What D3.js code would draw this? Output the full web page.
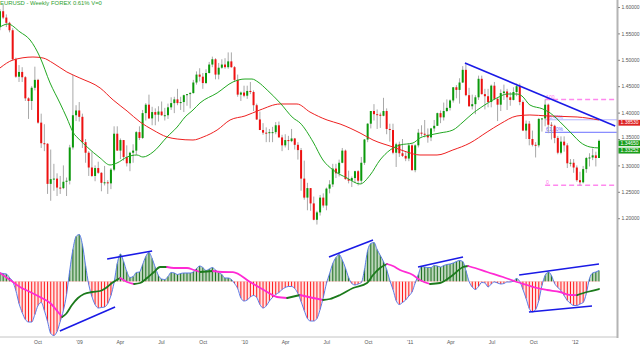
<!DOCTYPE html>
<html><head><meta charset="utf-8">
<script src="https://cdn.jsdelivr.net/npm/d3@7"></script>
<style>html,body{margin:0;padding:0;background:#fff;overflow:hidden}svg{display:block}text{font-family:"Liberation Sans",Arial,sans-serif}</style>
</head><body><svg id="c" width="640" height="346"></svg>
<script>
// ---------------- DATA ----------------
const firstWeek = "2008-07-07";   // Monday of the first weekly bar
const closes = [1.5920,1.5800,1.5700,1.5560,1.5010,1.4680,1.4770,1.4670,1.4270,1.4220,
1.4470,1.4620,1.3810,1.3420,1.3410,1.2650,1.2740,1.2750,1.2580,1.2570,
1.2690,1.2710,1.3340,1.3950,1.4040,1.3920,1.3440,1.3240,1.2960,1.2800,
1.2950,1.2860,1.2670,1.2680,1.2660,1.2920,1.3600,1.3280,1.3480,1.3160,
1.3040,1.3240,1.3280,1.3630,1.3520,1.3990,1.4150,1.3890,1.4010,1.3960,
1.4020,1.3950,1.3950,1.4100,1.4180,1.4250,1.4180,1.4200,1.4330,1.4350,
1.4370,1.4570,1.4720,1.4680,1.4560,1.4750,1.4910,1.5010,1.4720,1.4850,
1.4910,1.4860,1.4970,1.4860,1.4620,1.4340,1.4380,1.4320,1.4410,1.4390,
1.4140,1.3870,1.3670,1.3620,1.3610,1.3630,1.3630,1.3760,1.3530,1.3380,
1.3480,1.3460,1.3510,1.3390,1.3290,1.2750,1.2390,1.2570,1.2280,1.1970,
1.2110,1.2390,1.2240,1.2560,1.2640,1.2940,1.2850,1.3050,1.3280,1.2740,
1.2710,1.2760,1.2890,1.2710,1.3050,1.3490,1.3790,1.4030,1.3970,1.3960,
1.3940,1.4030,1.3690,1.3670,1.3240,1.3400,1.3230,1.3180,1.3130,1.3380,
1.2910,1.3380,1.3620,1.3600,1.3580,1.3530,1.3700,1.3750,1.3990,1.3910,
1.4030,1.4090,1.4230,1.4480,1.4430,1.4570,1.4810,1.4330,1.4120,1.4160,
1.4290,1.4640,1.4350,1.4310,1.4200,1.4510,1.4260,1.4150,1.4370,1.4400,
1.4290,1.4240,1.4390,1.4500,1.4200,1.3660,1.3790,1.3500,1.3390,1.3380,
1.3880,1.3890,1.4150,1.3770,1.3750,1.3520,1.3240,1.3450,1.3380,1.3040,
1.3050,1.2960,1.2720,1.2680,1.2930,1.3140,1.3150,1.3190,1.3140,1.3465];
const opens = [1.5620,1.5920,1.5800,1.5700,1.5560,1.5010,1.4680,1.4770,1.4670,1.4270,
1.4220,1.4470,1.4620,1.3810,1.3420,1.3410,1.2650,1.2740,1.2750,1.2580,
1.2570,1.2690,1.2710,1.3340,1.3950,1.4040,1.3920,1.3440,1.3240,1.2960,
1.2800,1.2950,1.2860,1.2670,1.2680,1.2660,1.2920,1.3600,1.3280,1.3480,
1.3160,1.3040,1.3240,1.3280,1.3630,1.3520,1.3990,1.4150,1.3890,1.4010,
1.3960,1.4020,1.3950,1.3950,1.4100,1.4180,1.4250,1.4180,1.4200,1.4330,
1.4350,1.4370,1.4570,1.4720,1.4680,1.4560,1.4750,1.4910,1.5010,1.4720,
1.4850,1.4910,1.4860,1.4970,1.4860,1.4620,1.4340,1.4380,1.4320,1.4410,
1.4390,1.4140,1.3870,1.3670,1.3620,1.3610,1.3630,1.3630,1.3760,1.3530,
1.3380,1.3480,1.3460,1.3510,1.3390,1.3290,1.2750,1.2390,1.2570,1.2280,
1.1970,1.2110,1.2390,1.2240,1.2560,1.2640,1.2940,1.2850,1.3050,1.3280,
1.2740,1.2710,1.2760,1.2890,1.2710,1.3050,1.3490,1.3790,1.4030,1.3970,
1.3960,1.3940,1.4030,1.3690,1.3670,1.3240,1.3400,1.3230,1.3180,1.3130,
1.3380,1.2910,1.3380,1.3620,1.3600,1.3580,1.3530,1.3700,1.3750,1.3990,
1.3910,1.4030,1.4090,1.4230,1.4480,1.4430,1.4570,1.4810,1.4330,1.4120,
1.4160,1.4290,1.4640,1.4350,1.4310,1.4200,1.4510,1.4260,1.4150,1.4370,
1.4400,1.4290,1.4240,1.4390,1.4500,1.4200,1.3660,1.3790,1.3500,1.3390,
1.3380,1.3880,1.3890,1.4150,1.3770,1.3750,1.3520,1.3240,1.3450,1.3380,
1.3040,1.3050,1.2960,1.2720,1.2680,1.2930,1.3140,1.3150,1.3190,1.3140];
const highs = [1.5960,1.6038,1.5860,1.5720,1.5600,1.5040,1.4900,1.4860,1.4690,1.4290,
1.4500,1.4870,1.4640,1.3980,1.3780,1.3420,1.3300,1.3030,1.2850,1.2800,
1.3000,1.2770,1.3390,1.4720,1.4140,1.4200,1.3980,1.3500,1.3270,1.3260,
1.3000,1.3070,1.2870,1.2990,1.2720,1.2950,1.3740,1.3740,1.3510,1.3480,
1.3380,1.3260,1.3400,1.3650,1.3740,1.4050,1.4180,1.4340,1.4110,1.4080,
1.4120,1.4210,1.4090,1.4170,1.4290,1.4300,1.4450,1.4300,1.4340,1.4350,
1.4390,1.4620,1.4780,1.4840,1.4750,1.4820,1.4960,1.5060,1.5030,1.4940,
1.5010,1.5030,1.5140,1.5140,1.4880,1.4720,1.4400,1.4510,1.4510,1.4580,
1.4420,1.4170,1.4020,1.3800,1.3720,1.3690,1.3730,1.3820,1.3830,1.3580,
1.3590,1.3560,1.3690,1.3520,1.3440,1.3330,1.3090,1.2670,1.2570,1.2410,
1.2140,1.2440,1.2470,1.2580,1.2720,1.3030,1.3030,1.3110,1.3330,1.3300,
1.2900,1.2790,1.2900,1.2910,1.3160,1.3500,1.3800,1.4030,1.4160,1.4060,
1.4000,1.4280,1.4080,1.3790,1.3790,1.3430,1.3450,1.3500,1.3250,1.3420,
1.3400,1.3400,1.3690,1.3760,1.3860,1.3700,1.3710,1.3860,1.4000,1.4040,
1.4190,1.4250,1.4250,1.4480,1.4520,1.4650,1.4880,1.4940,1.4470,1.4340,
1.4330,1.4700,1.4700,1.4450,1.4450,1.4530,1.4580,1.4280,1.4440,1.4530,
1.4450,1.4390,1.4480,1.4550,1.4550,1.4230,1.3850,1.3840,1.3660,1.3440,
1.3900,1.3890,1.4250,1.4170,1.3820,1.3770,1.3560,1.3550,1.3550,1.3420,
1.3120,1.3120,1.3000,1.2880,1.2990,1.3160,1.3230,1.3320,1.3260,1.3490];
const lows = [1.5560,1.5770,1.5620,1.5520,1.4990,1.4660,1.4580,1.4580,1.4220,1.3880,
1.4050,1.4420,1.3790,1.3330,1.3270,1.2460,1.2330,1.2520,1.2420,1.2460,
1.2550,1.2420,1.2640,1.3300,1.3840,1.3830,1.3330,1.3050,1.2800,1.2780,
1.2700,1.2840,1.2510,1.2620,1.2460,1.2550,1.2890,1.3280,1.3120,1.3090,
1.2980,1.2890,1.3050,1.3200,1.3480,1.3500,1.3850,1.3880,1.3760,1.3760,
1.3830,1.3940,1.3850,1.3880,1.4050,1.3990,1.4140,1.4050,1.4010,1.4130,
1.4080,1.4360,1.4530,1.4590,1.4450,1.4540,1.4740,1.4860,1.4630,1.4630,
1.4830,1.4830,1.4830,1.4850,1.4580,1.4300,1.4220,1.4290,1.4260,1.4350,
1.4030,1.3860,1.3670,1.3580,1.3440,1.3440,1.3440,1.3590,1.3530,1.3270,
1.3340,1.3290,1.3440,1.3300,1.3110,1.2520,1.2350,1.2150,1.2140,1.1960,
1.1880,1.2050,1.2200,1.2150,1.2470,1.2590,1.2760,1.2790,1.3040,1.2730,
1.2660,1.2590,1.2670,1.2620,1.2650,1.3010,1.3440,1.3700,1.3850,1.3690,
1.3710,1.3930,1.3590,1.3450,1.3210,1.2970,1.3160,1.3160,1.3080,1.3080,
1.2900,1.2870,1.3340,1.3550,1.3530,1.3430,1.3460,1.3640,1.3750,1.3800,
1.3850,1.4010,1.4040,1.4190,1.4270,1.4170,1.4560,1.4310,1.4110,1.4060,
1.3970,1.4240,1.4340,1.4060,1.4100,1.4100,1.4240,1.3840,1.4030,1.4240,
1.4050,1.4130,1.4230,1.4310,1.4140,1.3650,1.3500,1.3380,1.3360,1.3150,
1.3340,1.3640,1.3740,1.3610,1.3490,1.3420,1.3210,1.3210,1.3260,1.2950,
1.2980,1.2860,1.2690,1.2620,1.2660,1.2860,1.2980,1.3100,1.2980,1.3140];

// moving averages (week index, price)
const ma20Weeks  = [0,2.5,6.3,9.5,12.6,15.8,18.9,21.1,23,25.2,27.5,31.6,34.7,36.9,40.1,43.2,45.1,48.3,52.7,55.9,58.4,60.9,63.1,68.5,73.5,77.3,79.5,81.4,84.3,88.4,92.5,94.7,98.8,101.9,105.1,109.5,113.6,116.8,119.9,123.1,126.2,130.3,132.5,135.7,138.8,142.9,146.1,149.3,151.5,156.8,160,163.1,164.7,167.2,171.3,173.6,177.7,180.8,183,186.2,189];
const ma20Values = [1.5621,1.5678,1.5527,1.5375,1.5053,1.4561,1.4182,1.3898,1.3633,1.3481,1.3348,1.3140,1.3008,1.3045,1.3159,1.3197,1.3159,1.3254,1.3538,1.3727,1.3917,1.4049,1.4182,1.4371,1.4580,1.4636,1.4636,1.4580,1.4428,1.4182,1.3898,1.3803,1.3443,1.3102,1.2913,1.2761,1.2648,1.2818,1.3102,1.3292,1.3386,1.3424,1.3519,1.3576,1.3614,1.3670,1.3822,1.3992,1.4087,1.4277,1.4352,1.4352,1.4314,1.4144,1.4068,1.3992,1.3765,1.3576,1.3443,1.3348,1.3330];
const ma50Weeks  = [0,4.1,10.4,13.6,16.7,21.1,25.2,31.6,35.7,40.1,44.2,48.3,52.7,55.9,60.9,64.1,68.5,72.6,77.3,82,88.4,93.7,97.8,103.2,107.3,113.6,117.7,124,128.4,132.5,137.9,142.9,148.3,153.7,157.8,163.1,167.2,172.6,182.1,189];
const ma50Values = [1.4845,1.4996,1.5053,1.5034,1.4939,1.4769,1.4655,1.4466,1.4239,1.4030,1.3822,1.3670,1.3538,1.3500,1.3481,1.3538,1.3670,1.3860,1.3936,1.4049,1.4163,1.4163,1.4011,1.3860,1.3784,1.3614,1.3481,1.3348,1.3254,1.3197,1.3197,1.3292,1.3424,1.3633,1.3785,1.3936,1.3955,1.3936,1.3917,1.3860];

// oscillator (one value per week) and its signal line
const oscValues = [8.5,8,7.5,4,0,-9,-22,-31,-38,-40.5,-40.5,-33,-24,-21,-29,-40,-52,-54,-50,-40,
-29,-13,11,32,45,47,37,16,-3,-15,-23,-26.5,-26,-25.5,-22,-14,-1,18,27.5,20,
10,4,5,9,9.5,17,25,29,23,14,6,2.5,2,5,9,8.5,7,8,8.5,8.5,
8.5,9.5,13,15.5,14,11,12.5,14,11.5,9,7,3.5,3.5,2,-2,-7,-16.5,-19.5,-18.5,-15.5,
-14,-16,-23,-26.5,-24.5,-19.5,-16,-13,-11,-8,-6,-5,-5,-7,-12,-20,-29,-37,-39.5,-39.5,
-37,-28,-16,-2,8,18,24,27,21.5,13.5,4,-2,-3.5,-2.5,-1,12,31,38,39,32,
26,20,12,1,-8,-19,-23,-21,-18.5,-14.5,-10.5,-1.5,7,15,14.5,14,14,16,15.5,14.5,
16,17,17.5,18.5,20,21,20,11,0,-5.5,-8,-5,-1,-1.5,-5.5,-2.5,-0.5,-1.5,-2.5,-2,
-0.5,-0.5,0.5,3,0,-8,-17,-27,-30.5,-28,-19,-4,6,9.5,6,-2,-6,-9,-14,-19,
-22,-24,-24,-22.5,-21,-12,3,8.5,9.5,11];
const sigWeeks  = [0,3.2,6.3,9.5,12.6,15.8,18.3,19.6,20.8,22.7,24.6,26.5,29,31.6,33.4,35.3,37.9,40.1,42.3,44.2,46.4,48.6,50.5,52.7,54.9,56.8,59,61.2,63.1,67.2,70.1,73.5,78.9,84.3,87.4,90.6,94.7,98.8,101.9,104.1,107.3,111.4,115.8,117.7,119.9,122.1,124,126.2,130.3,132.5,135.7,138.8,142.9,146.1,147.7,149.9,153.7,158.7,163.1,166.3,169.5,172.6,176.7,179.9,182.1,185.2,189];
const sigValues = [8.5,1.5,-5.5,-10.5,-15.5,-21.5,-30.5,-35.5,-32.5,-23.5,-16.5,-12.5,-10.5,-9.5,-6.5,-1.5,3.5,-0.5,-2.5,-1.5,3.5,9.5,14.5,14.5,13.5,13.5,13.5,11.5,9.5,10.5,9.5,9.4,-0.5,-10.5,-15.5,-16.5,-13.5,-16.5,-18.5,-17.5,-13.5,-6.5,-1.5,6.5,13.5,17.5,15.5,11.5,6.5,1.5,-2.5,-1.5,6.5,14.5,15.5,13.5,9.5,4.5,-0.5,-3.5,-6.5,-8.5,-10.5,-13.5,-13.6,-10.5,-7.5];

// time axis
const tickDates  = ["2008-10-01","2009-01-01","2009-04-01","2009-07-01","2009-10-01","2010-01-01","2010-04-01","2010-07-01","2010-10-01","2011-01-01","2011-04-01","2011-07-01","2011-10-01","2012-01-01"];
const tickLabels = ["Oct","'09","Apr","Jul","Oct","'10","Apr","Jul","Oct","'11","Apr","Jul","Oct","'12"];
const priceTicks = [1.20,1.25,1.30,1.35,1.40,1.45,1.50,1.55,1.60];

// drawn studies (week index, value)
const priceTrend = [[146.7,1.4939],[194.1,1.3746]];
const oscTrends = [
  [[18.9,-49.5],[36.3,-25.5]],
  [[33.8,22.5],[48.0,30.5]],
  [[103.8,24.5],[117.7,41.5]],
  [[131.9,14.5],[146.1,24.5]],
  [[163.8,6.5],[189.0,17.5]],
  [[166.9,-30.5],[186.8,-24.5]]
];
const fibStartWeek = 172, fibHigh = 1.4247, fibLow = 1.2624;
const fibRatios = [1, 0.764, 0.618, 0];
const fibLabels = ["100", "76.40%", "61.80%", "0"];
const lastValueLabels = ["1.38530","1.34650","1.33252"];
const lastValues = [1.3853, 1.3465, 1.33252];
const lastValueKinds = ["ma50","price","ma20"];
const titleText = "EURUSD - Weekly FOREX  0.61%  V=0";

// ---------------- DRAW ----------------
const svg = d3.select("#c");
const plotRight = 617, axisBottom = 337;
const start = new Date(firstWeek + "T00:00:00");
const WEEK = 7 * 864e5;
const n = closes.length;
const x = d3.scaleLinear().domain([0, n - 1]).range([0, 599]);
const y = d3.scaleLinear().domain([1.20, 1.60]).range([218.2, 7]);
const yo = d3.scaleLinear().domain([-55, 50]).range([336.5, 231.5]);
const weekOf = s => (new Date(s + "T00:00:00") - start) / WEEK;

svg.append("defs").append("clipPath").attr("id","plot")
  .append("rect").attr("x",0).attr("y",0).attr("width",plotRight).attr("height",axisBottom);
svg.select("defs").append("clipPath").attr("id","pos")
  .append("rect").attr("x",0).attr("y",0).attr("width",plotRight).attr("height",yo(0));
svg.select("defs").append("clipPath").attr("id","neg")
  .append("rect").attr("x",0).attr("y",yo(0)).attr("width",plotRight).attr("height",axisBottom-yo(0));

const g = svg.append("g").attr("clip-path","url(#plot)");

// fib levels
const fibColors = ["#ff88ee","#b4b4ff","#6a70ff","#ff88ee"];
fibRatios.forEach((r,k) => {
  const v = fibLow + r * (fibHigh - fibLow);
  const dashed = (r === 0 || r === 1);
  g.append("line").attr("x1", x(fibStartWeek)).attr("x2", plotRight)
    .attr("y1", y(v)).attr("y2", y(v))
    .attr("stroke", fibColors[k]).attr("stroke-width", dashed ? 1.5 : 1)
    .attr("stroke-dasharray", dashed ? "5,3" : null);
  g.append("text").attr("x", x(fibStartWeek) + 1).attr("y", y(v) - 1)
    .attr("font-size", 5).attr("fill", dashed ? "#ff77ee" : (r > 0.7 ? "#9a8aff" : "#6a70ff"))
    .text(fibLabels[k]);
});

// candles
const cand = g.append("g");
d3.range(n).forEach(i => {
  const up = closes[i] >= opens[i];
  cand.append("line").attr("x1", x(i)).attr("x2", x(i))
    .attr("y1", y(highs[i])).attr("y2", y(lows[i]))
    .attr("stroke", "#a8a8a8").attr("stroke-width", 1);
  const top = y(Math.max(opens[i], closes[i])), bot = y(Math.min(opens[i], closes[i]));
  cand.append("rect").attr("x", x(i) - 1).attr("width", 2)
    .attr("y", top).attr("height", Math.max(1, bot - top))
    .attr("fill", up ? "#0b9a0b" : "#ee1111");
});

// moving averages
const maLine = d3.line().curve(d3.curveMonotoneX);
g.append("path").attr("d", maLine(ma50Weeks.map((w,k)=>[x(w), y(ma50Values[k])])))
  .attr("fill","none").attr("stroke","#ee2020").attr("stroke-width",1);
g.append("path").attr("d", maLine(ma20Weeks.map((w,k)=>[x(w), y(ma20Values[k])])))
  .attr("fill","none").attr("stroke","#22a822").attr("stroke-width",1);

// price trend line
g.append("line").attr("x1", x(priceTrend[0][0])).attr("y1", y(priceTrend[0][1]))
  .attr("x2", x(priceTrend[1][0])).attr("y2", y(priceTrend[1][1]))
  .attr("stroke","#1a1ae6").attr("stroke-width",1.6);

// oscillator
const oscPts = oscValues.map((v,i)=>[x(i), yo(v)]);
const area = d3.area().x(d=>d[0]).y0(yo(0)).y1(d=>d[1]).curve(d3.curveMonotoneX);
g.append("path").attr("d", area(oscPts)).attr("fill","#bcd6bc").attr("clip-path","url(#pos)");
g.append("path").attr("d", area(oscPts)).attr("fill","#ffe6e6").attr("clip-path","url(#neg)");
oscValues.forEach((v,i) => {
  g.append("line").attr("x1", x(i)).attr("x2", x(i)).attr("y1", yo(0)).attr("y2", yo(v))
    .attr("stroke", v >= 0 ? "#1f6f1f" : "#ff1a1a").attr("stroke-width", 1);
});
g.append("line").attr("x1",0).attr("x2",x(n-1)).attr("y1",yo(0)).attr("y2",yo(0))
  .attr("stroke","#ffb0b0").attr("stroke-width",0.8).attr("clip-path","url(#neg)");
g.append("path").attr("d", d3.line().curve(d3.curveMonotoneX)(oscPts))
  .attr("fill","none").attr("stroke","#5b7be8").attr("stroke-width",1);

// signal line coloured by direction
const sigPts = sigWeeks.map((w,k)=>[x(w), yo(sigValues[k])]);
let run = [sigPts[0]], dir = Math.sign(sigValues[1]-sigValues[0]);
const runs = [];
for (let k = 1; k < sigPts.length; k++) {
  const d = Math.sign(sigValues[k]-sigValues[k-1]) || dir;
  if (d !== dir) { runs.push({pts: run, dir}); run = [sigPts[k-1]]; dir = d; }
  run.push(sigPts[k]);
}
runs.push({pts: run, dir});
runs.forEach(r => {
  g.append("path").attr("d", d3.line().curve(d3.curveMonotoneX)(r.pts))
    .attr("fill","none").attr("stroke", r.dir > 0 ? "#1b7a1b" : "#ff2ad4")
    .attr("stroke-width", 1.8).attr("stroke-linecap","round");
});

// oscillator trend lines
oscTrends.forEach(t => {
  g.append("line").attr("x1", x(t[0][0])).attr("y1", yo(t[0][1]))
    .attr("x2", x(t[1][0])).attr("y2", yo(t[1][1]))
    .attr("stroke","#1a1ae6").attr("stroke-width",1.6);
});

// axes
svg.append("line").attr("x1",0).attr("x2",plotRight).attr("y1",axisBottom).attr("y2",axisBottom)
  .attr("stroke","#c4c4c4").attr("stroke-width",1);
svg.append("line").attr("x1",plotRight+0.5).attr("x2",plotRight+0.5).attr("y1",0).attr("y2",axisBottom+1)
  .attr("stroke","#b4b4b4").attr("stroke-width",2);

// last value box centres (used to keep tick labels clear of the boxes)
const boxCentres = lastValues.map(v => y(v) + 2.4);
const boxHalf = 2.9;

const yAxis = d3.axisRight(y).tickValues(priceTicks).tickFormat(d3.format(".5f"))
  .tickSize(2).tickPadding(1.5);
const ya = svg.append("g").attr("transform",`translate(${plotRight+1},0)`).call(yAxis);
ya.select(".domain").remove();
ya.selectAll("line").attr("stroke","#888");
ya.selectAll("text").attr("font-size",5.0).attr("fill","#555").attr("dy","0.32em")
  .attr("font-family","Liberation Sans, Arial, sans-serif")
  .attr("y", d => {
    const ty = y(d);
    let shift = 0;
    boxCentres.forEach(c => {
      const boxTop = c - boxHalf;
      if (ty + 3 > boxTop && ty - 3 < c + boxHalf) shift = Math.min(shift, boxTop - 3.2 - ty);
    });
    return shift;
  });

const xAxis = d3.axisBottom(x).tickValues(tickDates.map(weekOf))
  .tickFormat((d,k)=>tickLabels[k]).tickSize(0).tickPadding(3);
const xa = svg.append("g").attr("transform",`translate(-1.5,${axisBottom})`).call(xAxis);
xa.select(".domain").remove();
xa.selectAll("text").attr("font-size",5).attr("fill","#555").attr("font-family","Liberation Sans, Arial, sans-serif");

// last value labels
const lastColors = {ma50:"#dd2222", price:"#1a9e1a", ma20:"#1a9e1a"};
lastValues.forEach((v,k) => {
  const cy = boxCentres[k];
  svg.append("rect").attr("x", plotRight + 1.5).attr("y", cy - boxHalf).attr("width", 23).attr("height", boxHalf*2)
    .attr("fill", lastColors[lastValueKinds[k]]);
  svg.append("text").attr("x", plotRight + 3.5).attr("y", cy + 1.7).attr("font-size", 5.0)
    .attr("fill","#fff").text(lastValueLabels[k]);
});

// title
svg.append("text").attr("x",0).attr("y",5).attr("font-size",5.9).attr("fill","#2e9e2e").text(titleText);
</script></body></html>
